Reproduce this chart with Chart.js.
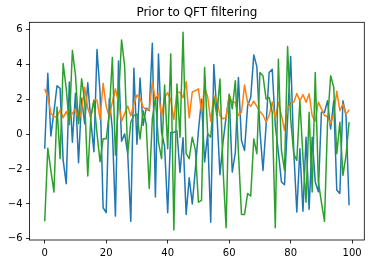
<!DOCTYPE html>
<html><head><meta charset="utf-8">
<script src="https://cdn.jsdelivr.net/npm/chart.js@4"></script>
<style>html,body{margin:0;padding:0;background:#fff;}canvas{display:block;}</style>
</head><body>
<canvas id="c" width="370" height="264"></canvas>
<script>
const titleText = "Prior to QFT filtering";
const blue = [-0.83,3.5,-0.1,1.3,2.78,2.63,-1.5,-2.84,3.0,-0.46,
  2.35,-1.64,2.06,0.6,2.95,0.75,-1.0,4.86,2.4,-4.22,
  -4.5,2.04,0.3,-4.7,4.2,-0.4,0.02,-1.1,-5.0,3.78,
  -0.58,3.22,0.5,1.5,1.35,5.22,-3.6,4.6,0.1,-0.7,
  -4.5,0.1,0.1,0.2,-2.2,-0.2,-4.6,-2.5,-4.0,-2.0,
  0.2,2.0,-1.6,0.02,-5.05,4.0,1.2,-2.32,-0.46,1.0,
  2.2,-2.17,-1.05,3.26,-0.36,-0.93,1.64,2.1,4.55,3.88,
  0.21,-2.08,0.5,3.54,3.73,0.5,-1.03,-2.74,-2.9,0.88,
  4.46,-0.93,-4.46,-0.84,-4.42,-0.17,-4.3,-0.17,-2.74,-3.3,
  1.26,1.26,1.92,0.3,1.92,-3.2,-3.4,1.92,1.07,-4.08];
const orange = [2.6,2.15,1.2,1.0,1.0,1.38,0.95,1.29,0.9,1.19,
  1.45,0.71,1.38,2.69,1.5,0.95,1.94,1.96,0.86,2.92,
  1.6,0.98,1.85,2.6,1.8,0.75,1.18,1.62,1.05,1.73,
  2.25,2.06,1.56,1.4,1.4,3.0,2.0,2.32,1.03,2.1,
  2.38,1.94,0.85,2.4,2.4,2.1,3.02,0.93,2.42,2.5,
  2.6,1.3,2.69,2.15,0.75,2.2,2.0,1.07,0.88,0.95,
  2.2,1.83,1.83,1.07,1.26,2.82,1.8,1.6,1.9,1.6,
  1.3,1.1,0.7,1.07,1.85,0.9,1.83,1.1,0.22,1.5,
  1.8,1.83,2.33,1.92,2.27,1.83,2.32,1.05,0.75,1.85,
  1.45,1.07,1.0,0.6,1.16,2.46,1.35,1.73,1.15,1.4];
const green = [-5.0,-0.8,-2.08,-3.32,1.56,-1.4,4.05,2.62,0.55,4.8,
  3.4,0.6,3.18,1.9,-2.4,1.0,1.95,0.05,-1.58,-0.26,
  -0.26,1.2,4.4,-1.2,2.0,5.41,3.9,-1.15,0.7,1.07,
  1.16,-0.27,1.35,0.6,-3.12,0.88,2.1,-0.46,-1.4,2.82,
  -0.84,4.6,-5.5,2.88,-0.17,5.85,-1.12,-1.4,-0.17,-0.9,
  -3.9,-3.8,3.83,0.02,-0.17,2.1,1.07,3.16,-2.0,-5.37,
  2.3,1.45,3.07,-1.0,-4.6,-4.6,-3.4,-3.55,-0.27,-1.12,
  3.54,3.35,2.02,2.11,1.26,-5.37,4.3,-0.93,-2.08,5.03,
  0.88,-1.12,-1.5,1.92,-1.31,-3.9,1.26,-3.31,3.54,-2.74,
  -3.9,-5.0,0.69,3.35,2.69,-1.12,0.69,-2.36,-1.22,0.69];
const xTicks = [0,20,40,60,80,100];
const xTickLabels = ["0","20","40","60","80","100"];
const yTicks = [-6,-4,-2,0,2,4,6];
const yTickLabels = ["\u22126","\u22124","\u22122","0","2","4","6"];
const xRange = [-4.95, 103.95];
const yRange = [-6.07, 6.42];

const toPts = arr => arr.map((v, i) => ({x: i, y: v}));

const frame = {
  id: 'frame',
  afterDatasetsDraw(chart) {
    const {ctx, chartArea: a} = chart;
    ctx.save();
    ctx.strokeStyle = '#000';
    ctx.lineWidth = 0.8;
    ctx.strokeRect(a.left, a.top, a.right - a.left, a.bottom - a.top);
    ctx.restore();
  }
};

const tickFont = {family: 'DejaVu Sans', size: 10};
new Chart(document.getElementById('c'), {
  type: 'line',
  data: {
    datasets: [
      {data: toPts(blue), borderColor: '#1f77b4', order: 3},
      {data: toPts(orange), borderColor: '#ff7f0e', order: 2},
      {data: toPts(green), borderColor: '#2ca02c', order: 1}
    ]
  },
  options: {
    responsive: false,
    animation: false,
    devicePixelRatio: 1,
    events: [],
    datasets: {line: {borderWidth: 1.5, pointRadius: 0, tension: 0, fill: false, borderJoinStyle: 'round', borderCapStyle: 'butt'}},
    layout: {padding: {left: 0, right: 5.7, top: 0, bottom: 0}},
    plugins: {
      legend: {display: false},
      tooltip: {enabled: false},
      title: {
        display: true, text: titleText, fullSize: false,
        font: {family: 'DejaVu Sans', size: 12, weight: 'normal'},
        color: '#000',
        padding: {top: 5.5, bottom: 2.4}
      }
    },
    scales: {
      x: {
        type: 'linear', min: xRange[0], max: xRange[1],
        afterBuildTicks: s => { s.ticks = xTicks.map(v => ({value: v})); },
        afterFit: s => { s.height = 24; },
        ticks: {font: tickFont, color: '#000', padding: 3.5, maxRotation: 0,
          callback: v => xTickLabels[xTicks.indexOf(v)]},
        grid: {drawOnChartArea: false, drawTicks: true, tickLength: 3.5, color: '#000', lineWidth: 0.8},
        border: {display: false}
      },
      y: {
        type: 'linear', min: yRange[0], max: yRange[1],
        afterBuildTicks: s => { s.ticks = yTicks.map(v => ({value: v})); },
        afterFit: s => { s.width = 29.5; },
        ticks: {font: tickFont, color: '#000', padding: 3.5,
          callback: v => yTickLabels[yTicks.indexOf(v)]},
        grid: {drawOnChartArea: false, drawTicks: true, tickLength: 3.5, color: '#000', lineWidth: 0.8},
        border: {display: false}
      }
    }
  },
  plugins: [frame]
});
</script>
</body></html>
